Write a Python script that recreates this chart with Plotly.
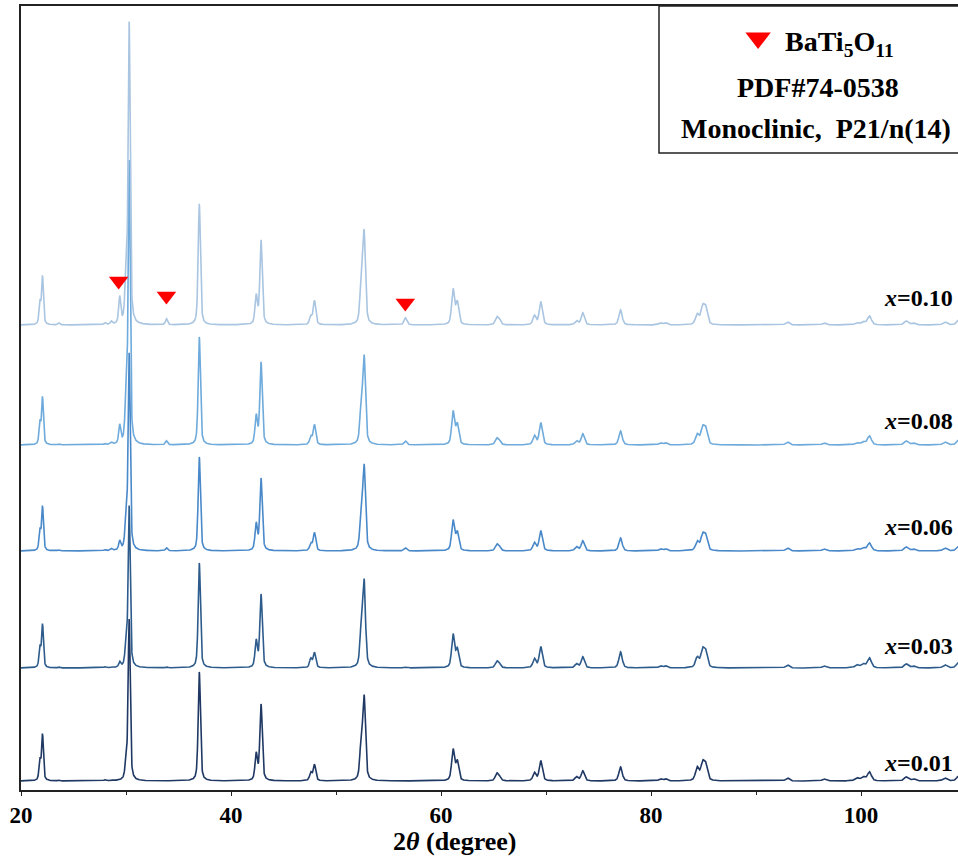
import numpy as np
import plotly.graph_objects as go

# ---------------- data ----------------
samples = ["x=0.01", "x=0.03", "x=0.06", "x=0.08", "x=0.10"]
offsets = [9, 122, 239, 345, 465]          # baseline of each stacked pattern (a.u.)
colors = ["#1f3864", "#2d5b8c", "#4a89c9", "#6eaadb", "#a9c5e1"]

peak_pos = [21.8, 22.05, 23.6, 28.0, 28.6, 29.4, 30.0, 30.3, 33.85, 36.98,
            42.4, 42.86, 47.6, 47.95, 52.4, 52.68, 56.6, 61.15, 61.55, 65.3,
            65.55, 68.9, 69.5, 72.9, 73.5, 77.1, 80.9, 81.4, 84.4, 84.9,
            85.2, 93.0, 96.5, 99.6, 100.2, 100.8, 104.3, 105.0, 108.0, 109.3]

int_001 = [20, 46, 1, 1, 1, 0, 15, 161, 0, 109, 26, 76, 8, 16, 36, 81, 0, 31, 19, 7,
           4, 8, 20, 4, 10, 14, 2, 2, 13, 16, 15, 3, 2, 3, 4, 9, 4, 2, 3, 5]
int_003 = [20, 43, 1, 1, 1, 5, 20, 161, 1, 105, 26, 73, 9, 15, 35, 84, 1, 33, 18, 6,
           4, 9, 21, 4, 11, 16, 2, 2, 10, 16, 15, 3, 2, 3, 4, 10, 4, 2, 3, 6]
int_006 = [20, 44, 1, 1, 2, 9, 30, 196, 3, 94, 26, 72, 7, 18, 34, 82, 3, 30, 18, 6,
           4, 8, 20, 4, 10, 13, 2, 2, 9, 14, 14, 3, 2, 2, 3, 8, 4, 2, 3, 5]
int_008 = [22, 47, 1, 1, 2, 18, 40, 282, 4, 108, 28, 82, 8, 20, 36, 85, 4, 33, 20, 6,
           4, 9, 22, 4, 11, 14, 2, 2, 10, 15, 15, 3, 2, 2, 3, 9, 4, 2, 3, 5]
int_010 = [22, 48, 2, 2, 3, 26, 48, 300, 6, 121, 28, 84, 8, 24, 37, 90, 7, 35, 22, 7,
           5, 9, 23, 4, 12, 15, 2, 2, 10, 16, 16, 3, 2, 2, 3, 9, 4, 2, 3, 5]
intensities = [int_001, int_003, int_006, int_008, int_010]

# BaTi5O11 impurity markers (2theta, height a.u.)
imp_x = [29.3, 33.85, 56.6]
imp_y = [509, 494, 487]

# ---------------- build profiles from the peak lists ----------------
tt = np.arange(20.0, 110.0, 0.02)
pos = np.array(peak_pos)
hw = 0.10 + 0.0015 * (pos - 20)


def profile(heights):
    h = np.array(heights, dtype=float)
    d = (tt[:, None] - pos[None, :]) / hw[None, :]
    lor = 1.0 / (1.0 + d ** 2)
    gau = np.exp(-np.log(2) * d ** 2)
    return ((0.5 * lor + 0.5 * gau) * h[None, :]).sum(axis=1)


fig = go.Figure()
for name, off, col, h in zip(samples, offsets, colors, intensities):
    fig.add_trace(go.Scatter(x=tt, y=profile(h) + off, mode="lines",
                             line=dict(color=col, width=1.6), name=name,
                             showlegend=False, hoverinfo="skip"))

fig.add_trace(go.Scatter(x=imp_x, y=imp_y, mode="markers",
                         marker=dict(symbol="triangle-down", size=17, color="#ff0000"),
                         showlegend=False, hoverinfo="skip"))
# legend symbol inside the box
fig.add_trace(go.Scatter(x=[90.2], y=[752], mode="markers",
                         marker=dict(symbol="triangle-down", size=22, color="#ff0000"),
                         showlegend=False, hoverinfo="skip", cliponaxis=False))

FONT = "Liberation Serif"
W, H = 958, 856
ML, MR, MT, MB = 21, 0, 6, 66
PW, PH = W - ML - MR, H - MT - MB


def px(xp):
    return (xp - ML) / PW


def py(yp):
    return (H - MB - yp) / PH


annotations = []
label_y = [763, 646, 527, 421, 298]
for name, ly in zip(samples, label_y):
    annotations.append(dict(
        x=px(955), y=py(ly), xref="paper", yref="paper", xanchor="right", yanchor="middle",
        text="<b><i>x</i>=" + name.split("=")[1] + "</b>", showarrow=False,
        font=dict(family=FONT, size=24, color="black")))

annotations += [
    dict(x=px(839), y=py(44), xref="paper", yref="paper", xanchor="center", yanchor="middle",
         text="<b>BaTi<sub>5</sub>O<sub>11</sub></b>", showarrow=False,
         font=dict(family=FONT, size=28, color="black")),
    dict(x=px(818), y=py(88), xref="paper", yref="paper", xanchor="center", yanchor="middle",
         text="<b>PDF#74-0538</b>", showarrow=False,
         font=dict(family=FONT, size=28, color="black")),
    dict(x=px(816), y=py(129), xref="paper", yref="paper", xanchor="center", yanchor="middle",
         text="<b>Monoclinic,  P21/n(14)</b>", showarrow=False,
         font=dict(family=FONT, size=28, color="black")),
    dict(x=px(454), y=py(841), xref="paper", yref="paper", xanchor="center", yanchor="middle",
         text="<b>2<i>θ</i> (degree)</b>", showarrow=False,
         font=dict(family=FONT, size=26, color="black")),
]

fig.update_layout(
    width=W, height=H,
    margin=dict(l=ML, r=MR, t=MT, b=MB, pad=0),
    paper_bgcolor="white", plot_bgcolor="white",
    annotations=annotations,
    shapes=[dict(type="rect", xref="paper", yref="paper",
                 x0=px(659), x1=1.01, y0=py(153), y1=1.0,
                 line=dict(color="#222222", width=1.5), fillcolor="rgba(0,0,0,0)")],
)
fig.update_xaxes(range=[20, 20 + PW / 10.5], tickvals=[20, 40, 60, 80, 100],
                 ticks="outside", ticklen=4, tickwidth=1.3, tickcolor="#222222",
                 minor=dict(tickvals=[30, 50, 70, 90], ticks="outside", ticklen=3,
                            tickwidth=1.2, tickcolor="#222222"),
                 showline=True, linecolor="#222222", linewidth=1.6, mirror=True,
                 showgrid=False, zeroline=False, ticklabelstandoff=0,
                 tickfont=dict(family=FONT, size=23, color="black", weight="bold"))
fig.update_yaxes(range=[0, PH], showticklabels=False, ticks="",
                 showline=True, linecolor="#222222", linewidth=1.6, mirror=False,
                 showgrid=False, zeroline=False)

fig.write_html("out.html", config={"displayModeBar": False},
               post_script="document.body.style.margin='0';"
                           "document.body.style.overflow='hidden';")
